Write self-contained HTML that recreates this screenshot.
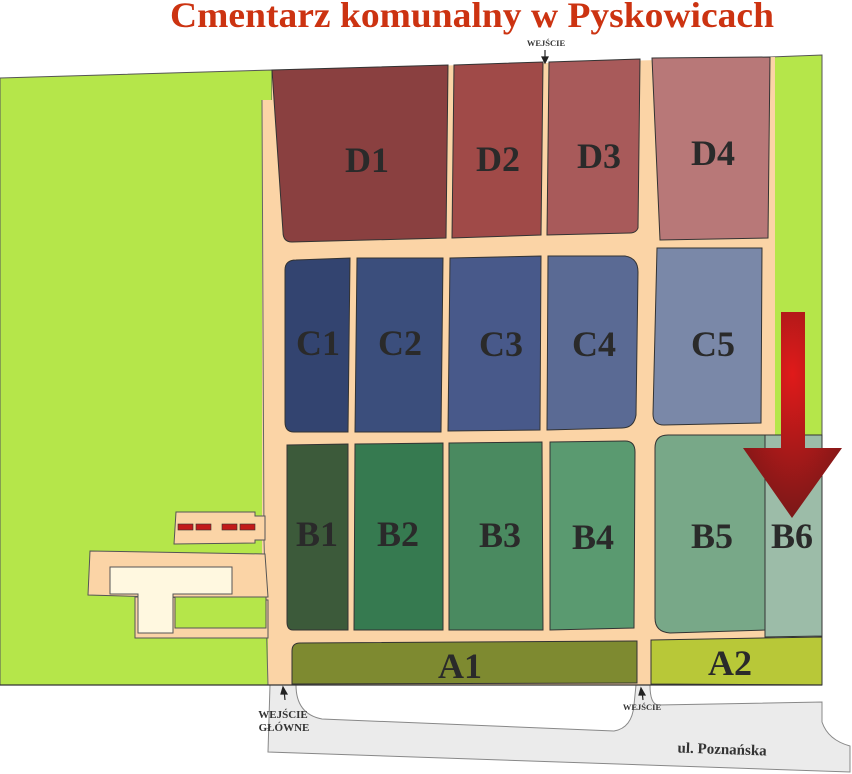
<!DOCTYPE html>
<html><head><meta charset="utf-8"><style>html,body{margin:0;padding:0;background:#fff}svg{display:block}</style></head>
<body>
<svg width="852" height="774" viewBox="0 0 852 774" xmlns="http://www.w3.org/2000/svg" font-family="Liberation Serif, serif" font-weight="bold">
<defs>
<radialGradient id="ar2" cx="0.5" cy="0.3" r="0.7"><stop offset="0" stop-color="#e01a1a"/><stop offset="1" stop-color="#7a1818"/></radialGradient>
</defs>
<text x="472" y="27" text-anchor="middle" font-size="36" fill="#cc3311" textLength="604" lengthAdjust="spacingAndGlyphs">Cmentarz komunalny w Pyskowicach</text>
<path d="M270,685 L296,685 Q296,714 322,719 L614,731 Q632,728 634,705 L636,685 L650,685 Q650,704 658,705 L822,702 L822,722 Q828,740 850,746 L850,772 L268,752 Z" fill="#ebebeb" stroke="#888" stroke-width="1"/>
<polygon points="0,78 272,70 272,685 0,685" fill="#b5e64a" stroke="#555" stroke-width="1"/>
<polygon points="770,57 822,55 822,440 770,440" fill="#b5e64a" stroke="#555" stroke-width="1"/>
<polygon points="262,100 272,100 272,70 775,57 775,640 822,640 822,685 268,685 268,632 262,632" fill="#fbd4a6"/>
<path d="M262,100 L264,540 L268,685" fill="none" stroke="#666" stroke-width="1"/>
<polygon points="90,551 265,554 268,597 135,597 135,638 268,638 268,600 88,595" fill="#fbd4a6" stroke="#555" stroke-width="1"/>
<polygon points="175,597 266,597 266,628 175,628" fill="#b5e64a" stroke="#555" stroke-width="1"/>
<polygon points="110,567 232,567 232,594 173,594 173,633 138,633 138,594 110,594" fill="#fff8e0" stroke="#555" stroke-width="1"/>
<polygon points="176,512 255,512 255,516 265,516 265,540 255,540 255,543 174,544" fill="#fbd4a6" stroke="#555" stroke-width="1"/>
<g fill="#c21a1a" stroke="#333" stroke-width="0.6"><rect x="178" y="524" width="15" height="6"/><rect x="196" y="524" width="15" height="6"/><rect x="222" y="524" width="15" height="6"/><rect x="240" y="524" width="15" height="6"/></g>
<g stroke="#333" stroke-width="1">
<path d="M272,70 L448,65 L446,238 L292,242 Q283,242 283,232 Z" fill="#8a4040"/>
<path d="M454,65 L543,62 L541,235 L452,238 Z" fill="#a04a48"/>
<path d="M549,62 L640,59 L638,228 Q636,233 630,233 L547,235 Z" fill="#a85a5a"/>
<path d="M652,58 L770,57 L768,238 L660,240 Z" fill="#b87878"/>
<path d="M296,260 L350,258 L348,432 L294,432 Q285,432 285,422 L285,270 Q285,260 296,260 Z" fill="#334470"/>
<path d="M357,258 L443,258 L441,432 L355,432 Z" fill="#3b4e7c"/>
<path d="M450,258 L541,256 L540,430 L448,431 Z" fill="#48598a"/>
<path d="M548,256 L625,256 Q638,258 638,272 L636,415 Q634,428 622,428 L547,430 Z" fill="#5a6a94"/>
<path d="M657,248 L762,248 L761,423 L664,425 Q653,425 653,414 Z" fill="#7a88a8"/>
<path d="M287,445 L348,444 L348,630 L293,630 Q287,630 287,622 Z" fill="#3c5a3a"/>
<path d="M355,444 L443,443 L443,630 L354,630 Z" fill="#367a50"/>
<path d="M449,443 L542,442 L543,630 L449,630 Z" fill="#4a8a60"/>
<path d="M550,442 L625,441 Q635,441 635,452 L634,628 L550,630 Z" fill="#5a9a70"/>
<path d="M668,435 L765,435 L765,630 L670,633 Q655,632 655,618 L655,448 Q655,435 668,435 Z" fill="#78a888"/>
<path d="M765,435 L822,435 L822,636 L765,637 Z" fill="#9cbca8"/>
<path d="M300,643 L637,641 L637,683 L292,684 L292,651 Q292,643 300,643 Z" fill="#7e8a30"/>
<path d="M651,640 L822,637 L822,685 L651,684 Z" fill="#b8c838"/>
</g>
<line x1="0" y1="685" x2="822" y2="685" stroke="#333" stroke-width="1.2"/>
<polygon points="781,312 805,312 805,448 842,448 792,518 743,448 781,448" fill="url(#ar2)"/>
<g font-size="36" fill="#2a2a2a">
<text x="367" y="172" text-anchor="middle">D1</text>
<text x="498" y="171" text-anchor="middle">D2</text>
<text x="599" y="168" text-anchor="middle">D3</text>
<text x="713" y="165" text-anchor="middle">D4</text>
<text x="318" y="355" text-anchor="middle">C1</text>
<text x="400" y="355" text-anchor="middle">C2</text>
<text x="501" y="356" text-anchor="middle">C3</text>
<text x="594" y="356" text-anchor="middle">C4</text>
<text x="713" y="356" text-anchor="middle">C5</text>
<text x="317" y="546" text-anchor="middle">B1</text>
<text x="398" y="546" text-anchor="middle">B2</text>
<text x="500" y="547" text-anchor="middle">B3</text>
<text x="593" y="549" text-anchor="middle">B4</text>
<text x="712" y="548" text-anchor="middle">B5</text>
<text x="792" y="548" text-anchor="middle">B6</text>
<text x="460" y="678" text-anchor="middle">A1</text>
<text x="730" y="675" text-anchor="middle">A2</text>
</g>
<g stroke="#222" stroke-width="1.2" fill="#222">
<line x1="545" y1="50" x2="545" y2="60"/><polygon points="542,57 548,57 545,63"/>
<line x1="285" y1="700" x2="284" y2="690"/><polygon points="281,694 287,694 283,687"/>
<line x1="643" y1="700" x2="642" y2="691"/><polygon points="639,695 645,695 641,688"/>
</g>
<g font-size="8.5" fill="#333">
<text x="546" y="46" text-anchor="middle">WEJŚCIE</text>
<text x="283" y="718" text-anchor="middle" font-size="11">WEJŚCIE</text>
<text x="284" y="731" text-anchor="middle" font-size="11">GŁÓWNE</text>
<text x="642" y="710" text-anchor="middle">WEJŚCIE</text>
</g>
<text x="722" y="754" text-anchor="middle" font-size="15" fill="#333" transform="rotate(2 722 754)">ul. Poznańska</text>
</svg>
</body></html>
